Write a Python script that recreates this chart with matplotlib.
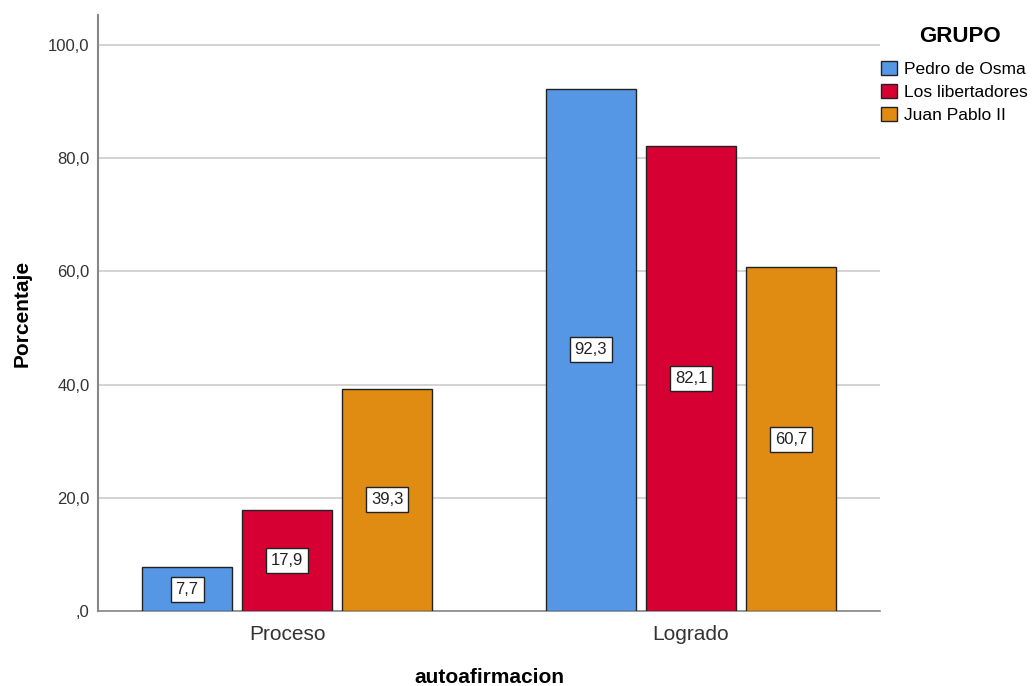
import matplotlib.pyplot as plt
import numpy as np
from matplotlib.ticker import FuncFormatter

plt.rcParams['font.family'] = ['Liberation Sans', 'DejaVu Sans']

# datos
categorias = ['Proceso', 'Logrado']
grupos = ['Pedro de Osma', 'Los libertadores', 'Juan Pablo II']
pedro = [7.7, 92.3]
libertadores = [17.9, 82.1]
juan_pablo = [39.3, 60.7]
colores = ['#5596e5', '#d60032', '#e08b11']

fig = plt.figure(figsize=(10.35, 6.86), dpi=100)
ax = fig.add_axes([98/1035, 1-611/686, 782/1035, 596/686])

x = np.arange(len(categorias))
ancho = 0.223
paso = 0.2475
series = [pedro, libertadores, juan_pablo]
for i, (vals, nombre, col) in enumerate(zip(series, grupos, colores)):
    pos = x + (i-1)*paso
    ax.bar(pos, vals, width=ancho, color=col, edgecolor='#222222', linewidth=1.0,
           label=nombre, zorder=3)
    for p, v in zip(pos, vals):
        ax.text(p, v/2, f'{v:.1f}'.replace('.', ','), ha='center', va='center',
                fontsize=12, color='#222222', zorder=4,
                bbox=dict(boxstyle='square,pad=0.3', fc='white', ec='#222222', lw=1.0))

ax.set_xlim(-0.468, 1.468)
ax.set_ylim(0, 105.3)
ax.set_yticks([0, 20, 40, 60, 80, 100])
ax.yaxis.set_major_formatter(FuncFormatter(lambda v, _: ',0' if v == 0 else f'{v:.1f}'.replace('.', ',')))
ax.set_xticks(x)
ax.set_xticklabels(categorias, fontsize=15, color='#333333')
ax.tick_params(axis='y', length=0, labelsize=12, labelcolor='#333333', pad=6)
ax.tick_params(axis='x', length=0, pad=10)
ax.grid(axis='y', color='#cccccc', linewidth=1.2, zorder=0)
for s in ['top', 'right']:
    ax.spines[s].set_visible(False)
ax.spines['left'].set_color('#888888')
ax.spines['bottom'].set_color('#888888')
ax.spines['left'].set_linewidth(1.5)
ax.spines['bottom'].set_linewidth(1.2)

ax.set_ylabel('Porcentaje', fontsize=15, fontweight='bold', va='center')
ax.yaxis.set_label_coords(-0.097, 0.5)
ax.set_xlabel('autoafirmacion', fontsize=15, fontweight='bold', va='center')
ax.xaxis.set_label_coords(0.5, -0.112)

# leyenda
fig.text(960/1035, 1-37/686, 'GRUPO', ha='center', va='center', fontsize=16, fontweight='bold')
handles, labels = ax.get_legend_handles_labels()
fig.legend(handles, labels, loc='upper left', bbox_to_anchor=(881/1035, 1-61/686),
           frameon=False, fontsize=12.5, handlelength=0.9, handleheight=0.9,
           handletextpad=0.4, labelspacing=0.38, borderaxespad=0, borderpad=0)

fig.savefig('out.png', dpi=100)
